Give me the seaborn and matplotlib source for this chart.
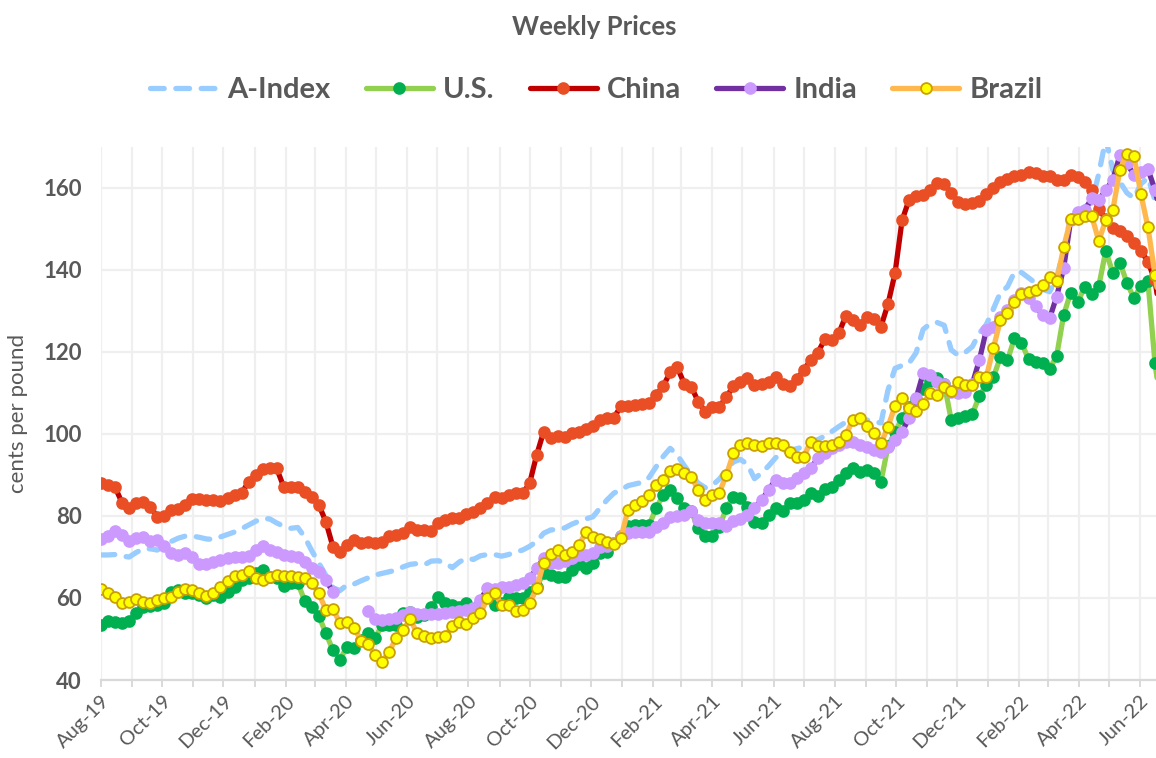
import matplotlib
matplotlib.use("Agg")

import matplotlib.pyplot as plt
import matplotlib.dates as mdates
from matplotlib.lines import Line2D
import pandas as pd
import seaborn as sns

# ---------------------------------------------------------
# DATA (weekly, cents per pound)
# ---------------------------------------------------------

weeks = pd.date_range("2019-08-01", periods=152, freq="7D")

a_index = [
    70.5, 70.5, 70.6, 70.2, 70.0, 71.1, 72.0, 72.0, 71.7, 72.8,
    73.8, 74.6, 75.1, 75.1, 74.8, 74.4, 74.3, 74.9, 75.5, 76.1,
    76.9, 77.8, 78.7, 79.4, 79.3, 78.3, 77.5, 77.0, 77.2, 74.8,
    71.5, 68.5, 65.5, 62.5, 61.8, 63.2, 63.4, 64.2, 64.9, 65.6,
    66.0, 66.4, 66.8, 67.6, 68.2, 68.4, 68.1, 69.0, 69.1, 68.5,
    67.4, 68.8, 69.7, 69.4, 70.3, 70.6, 70.6, 70.2, 70.6, 71.2,
    71.7, 72.6, 73.8, 75.8, 76.6, 76.7, 77.1, 78.0, 78.7, 79.3,
    79.8, 81.9, 83.9, 85.6, 86.4, 87.4, 87.8, 88.2, 89.4, 92.0,
    94.5, 96.5, 94.9, 92.3, 90.0, 88.0, 86.9, 87.5, 89.0, 91.2,
    93.2, 93.8, 92.6, 89.1, 90.5, 92.2, 94.2, 95.4, 96.0, 96.4,
    96.9, 97.9, 98.6, 99.5, 100.6, 101.8, 102.9, 103.4, 103.8, 103.4,
    103.0, 102.7, 110.7, 116.0, 116.7, 117.3, 119.8, 125.5, 126.9, 127.2,
    126.5, 120.5, 119.2, 119.9, 121.3, 124.6, 126.7, 130.5, 134.5, 135.9,
    139.5, 139.4, 138.1, 136.8, 135.3, 134.7, 138.0, 145.0, 153.0, 154.3,
    155.4, 156.4, 163.5, 172.0, 164.4, 161.5, 158.8, 157.5, 161.0, 162.5,
    157.0, 150.0,
]

us = [
    53.4, 54.4, 54.2, 53.8, 54.4, 56.4, 57.9, 58.1, 58.3, 58.9,
    61.5, 62.0, 61.3, 61.1, 60.7, 59.9, 60.7, 60.3, 61.5, 62.8,
    64.4, 64.8, 66.0, 66.8, 65.2, 64.8, 62.9, 63.7, 63.6, 59.3,
    57.9, 55.6, 51.4, 47.3, 45.0, 48.1, 47.7, 49.8, 51.4, 50.2,
    53.4, 53.4, 53.4, 56.3, 56.7, 55.4, 55.9, 57.9, 60.2, 58.7,
    58.3, 57.9, 58.9, 57.1, 58.7, 60.3, 58.3, 58.7, 60.3, 60.1,
    59.9, 61.5, 62.8, 66.0, 65.6, 65.2, 65.2, 66.8, 68.3, 67.4,
    68.6, 70.9, 71.1, 73.4, 75.0, 77.6, 77.8, 77.8, 77.8, 81.9,
    85.1, 86.3, 84.3, 81.9, 81.1, 77.0, 75.1, 75.1, 77.4, 81.9,
    84.7, 84.3, 82.3, 78.6, 78.4, 80.2, 81.9, 81.1, 83.1, 83.1,
    83.9, 85.5, 84.9, 86.5, 87.0, 88.8, 90.6, 91.6, 90.8, 91.2,
    90.4, 88.4, 97.0, 100.5, 103.8, 106.5, 108.5, 111.0, 113.0, 113.6,
    112.3, 103.4, 103.8, 104.4, 104.8, 109.3, 112.0, 113.8, 118.8, 118.0,
    123.3, 122.3, 118.2, 117.6, 117.2, 115.9, 119.0, 129.0, 134.5, 132.1,
    135.9, 134.1, 136.1, 144.7, 139.2, 141.8, 136.9, 133.1, 136.2, 137.2,
    117.2, 105.0,
]

china = [
    88.0, 87.6, 87.0, 83.2, 82.0, 83.2, 83.5, 82.3, 79.8, 80.0,
    81.5, 81.6, 82.7, 84.1, 84.1, 84.0, 84.0, 83.7, 84.3, 85.1,
    85.5, 88.4, 90.0, 91.4, 91.6, 91.6, 87.1, 87.1, 87.0, 85.9,
    84.7, 82.7, 78.6, 72.5, 71.3, 72.9, 74.1, 73.3, 73.7, 73.3,
    73.7, 75.0, 75.4, 75.8, 77.4, 76.7, 76.7, 76.3, 78.2, 79.0,
    79.4, 79.4, 80.5, 81.0, 81.9, 83.1, 84.7, 84.5, 85.1, 85.5,
    85.5, 88.0, 94.9, 100.6, 99.0, 99.5, 99.2, 100.2, 100.6, 101.2,
    102.0, 103.3, 103.8, 104.0, 106.8, 106.8, 107.1, 107.3, 107.5, 109.5,
    111.7, 115.0, 116.3, 112.3, 111.5, 107.9, 105.4, 106.7, 106.7, 109.0,
    111.7, 112.8, 113.6, 112.0, 112.3, 112.6, 114.0, 112.2, 111.7, 113.3,
    115.6, 118.0, 119.8, 123.1, 122.9, 124.6, 128.8, 127.8, 126.6, 128.5,
    128.0, 126.2, 131.7, 139.2, 152.1, 157.1, 158.0, 158.3, 159.5, 161.3,
    161.0, 158.7, 156.7, 156.1, 156.4, 156.9, 158.5, 159.9, 161.5, 162.3,
    162.8, 163.2, 164.0, 163.7, 162.9, 162.8, 162.0, 162.0, 163.2, 162.6,
    161.5, 159.5, 154.8, 152.4, 150.2, 149.6, 148.3, 146.5, 144.7, 142.0,
    137.5, 126.0,
]

# India has no quotes for four weeks in spring 2020
india = [
    74.4, 75.0, 76.4, 75.4, 73.9, 74.6, 74.8, 73.9, 74.1, 72.7,
    70.9, 70.5, 70.9, 69.9, 68.3, 68.3, 68.9, 69.3, 69.7, 69.9,
    70.1, 70.3, 71.7, 72.7, 71.7, 71.1, 70.5, 70.2, 70.1, 68.9,
    67.2, 66.4, 64.4, 61.5, None, None, None, None, 56.9, 54.8,
    54.6, 54.8, 55.2, 55.9, 56.7, 56.2, 56.1, 56.1, 56.1, 56.4,
    56.7, 56.9, 57.1, 57.5, 59.6, 62.4, 62.1, 62.6, 62.8, 63.2,
    63.7, 64.8, 67.2, 69.7, 68.5, 68.5, 69.1, 69.7, 70.5, 70.5,
    70.9, 72.4, 72.7, 73.4, 75.0, 75.8, 76.0, 76.0, 76.2, 77.4,
    78.4, 79.7, 80.0, 80.2, 81.1, 79.0, 78.4, 78.2, 78.4, 77.6,
    78.9, 79.2, 80.2, 81.9, 83.9, 86.3, 88.9, 88.0, 88.0, 89.2,
    90.4, 91.6, 94.1, 95.3, 96.5, 97.3, 98.1, 98.1, 97.3, 96.9,
    96.1, 95.7, 96.9, 98.5, 100.6, 103.8, 108.7, 114.8, 114.4, 112.8,
    112.3, 110.3, 109.9, 110.3, 112.2, 118.0, 125.4, 126.2, 128.6, 130.2,
    132.7, 134.3, 133.1, 131.1, 129.0, 128.2, 133.5, 140.4, 152.2, 154.2,
    154.6, 157.5, 157.1, 159.5, 162.0, 168.0, 166.0, 163.2, 163.8, 164.6,
    159.5, 152.0,
]

brazil = [
    62.1, 61.1, 60.3, 58.9, 59.1, 59.7, 59.1, 58.7, 59.5, 59.9,
    60.3, 61.4, 62.2, 62.0, 61.1, 60.5, 61.3, 62.8, 64.2, 65.4,
    65.6, 66.5, 64.8, 64.5, 65.0, 65.7, 65.4, 65.4, 65.0, 64.9,
    63.6, 61.1, 57.1, 57.2, 54.0, 54.2, 52.8, 49.6, 48.9, 46.1,
    44.5, 46.9, 50.2, 52.3, 54.8, 51.4, 50.7, 50.2, 50.6, 50.7,
    53.2, 54.2, 53.7, 55.0, 56.3, 59.9, 61.1, 58.4, 58.4, 56.8,
    57.1, 58.9, 62.4, 68.6, 70.7, 71.7, 70.5, 71.1, 72.9, 76.0,
    74.8, 74.3, 73.7, 73.2, 74.7, 81.5, 82.7, 83.7, 85.1, 87.6,
    88.8, 91.0, 91.4, 90.4, 89.6, 86.3, 83.9, 85.1, 85.7, 90.0,
    95.3, 97.3, 97.7, 97.3, 97.1, 97.7, 97.8, 97.3, 95.7, 94.5,
    94.5, 98.1, 97.1, 97.1, 97.3, 98.1, 99.8, 103.4, 103.8, 101.9,
    100.3, 97.7, 101.8, 106.8, 108.7, 106.3, 105.6, 107.3, 110.1, 109.5,
    111.4, 110.5, 112.8, 112.0, 112.0, 113.8, 114.0, 120.9, 127.8, 129.6,
    132.3, 134.1, 134.7, 135.1, 136.3, 138.4, 137.2, 145.5, 152.4, 152.4,
    153.1, 153.1, 147.1, 152.2, 154.6, 164.4, 168.3, 167.8, 158.5, 150.4,
    138.8, 128.0,
]

df = pd.DataFrame({
    "week": weeks,
    "A-Index": a_index,
    "U.S.": us,
    "China": china,
    "India": pd.to_numeric(pd.Series(india), errors="coerce"),
    "Brazil": brazil,
})

GREY = "#595959"

# line colour, marker face, marker edge
styles = {
    "U.S.": ("#92D050", "#00B050", "#00B050"),
    "China": ("#C00000", "#EA4E25", "#EA4E25"),
    "India": ("#7030A0", "#CC99FF", "#CC99FF"),
    "Brazil": ("#FFB84D", "#FFFF00", "#C9A000"),
}

# =========================================================
# FIGURE
# =========================================================

sns.set_theme(style="white")
plt.rcParams["font.family"] = ["Lato", "DejaVu Sans"]

fig = plt.figure(figsize=(11.56, 7.58), dpi=100)
ax = fig.add_axes([0.0874, 0.1029, 0.9126, 0.7032])

LW = 3.8
MS = 7.8
DASH = (0, (2.6, 2.2))

sns.lineplot(
    data=df, x="week", y="A-Index", ax=ax, color="#99CCFF",
    linewidth=LW, linestyle=DASH, dash_capstyle="round",
    errorbar=None, legend=False, zorder=2,
)

for i, name in enumerate(["U.S.", "China", "India", "Brazil"]):
    line_c, face_c, edge_c = styles[name]
    if name == "India":
        parts = [df.iloc[:34], df.iloc[38:]]
    else:
        parts = [df]
    for part in parts:
        sns.lineplot(
            data=part, x="week", y=name, ax=ax, color=line_c,
            linewidth=LW, marker="o", markersize=MS,
            markerfacecolor=face_c, markeredgecolor=edge_c,
            markeredgewidth=1.3, errorbar=None, legend=False,
            zorder=3 + i,
        )

# axes
ax.set_ylim(40, 170)
ax.set_yticks([40, 60, 80, 100, 120, 140, 160])
ax.set_xlim(pd.Timestamp("2019-08-01"), pd.Timestamp("2022-06-17"))

ax.xaxis.set_major_locator(mdates.MonthLocator(bymonth=[2, 4, 6, 8, 10, 12]))
ax.xaxis.set_major_formatter(mdates.DateFormatter("%b-%y"))
ax.xaxis.set_minor_locator(mdates.MonthLocator())

ax.grid(True, which="both", axis="x", color="#EFEFEF", linewidth=1.6)
ax.grid(True, which="major", axis="y", color="#EFEFEF", linewidth=1.6)
ax.set_axisbelow(True)

for s in ["left", "top", "right"]:
    ax.spines[s].set_visible(False)
ax.spines["bottom"].set_color("#D9D9D9")
ax.spines["bottom"].set_linewidth(1.6)

ax.tick_params(axis="x", which="both", bottom=True, length=5, width=1.4,
               color="#D9D9D9", labelsize=14.5, labelcolor=GREY, pad=4)
ax.tick_params(axis="y", length=0, labelsize=16, labelcolor=GREY, pad=14)

for lbl in ax.get_xticklabels():
    lbl.set_rotation(45)
    lbl.set_ha("right")
    lbl.set_rotation_mode("anchor")
for lbl in ax.get_yticklabels():
    lbl.set_fontweight("bold")

ax.set_xlabel("")
ax.set_ylabel("cents per pound", fontsize=16, color=GREY)
ax.yaxis.set_label_coords(-0.069, 0.5)

# title + legend
fig.text(0.514, 0.964, "Weekly Prices", ha="center", va="center",
         fontsize=18.5, fontweight="bold", color=GREY)

handles = [
    Line2D([], [], color="#99CCFF", linewidth=LW,
           linestyle=DASH, dash_capstyle="round"),
]
for name in ["U.S.", "China", "India", "Brazil"]:
    line_c, face_c, edge_c = styles[name]
    handles.append(Line2D([], [], color=line_c, linewidth=LW, marker="o",
                          markersize=MS, markerfacecolor=face_c,
                          markeredgecolor=edge_c, markeredgewidth=1.3))

fig.legend(
    handles, ["A-Index", "U.S.", "China", "India", "Brazil"],
    loc="center", bbox_to_anchor=(0.516, 0.881), ncol=5, frameon=False,
    handlelength=2.3, handletextpad=0.35, columnspacing=1.2,
    prop={"size": 21, "weight": "bold"}, labelcolor=GREY, markerscale=1.0,
)

plt.savefig("out.png", dpi=100)
plt.close()
